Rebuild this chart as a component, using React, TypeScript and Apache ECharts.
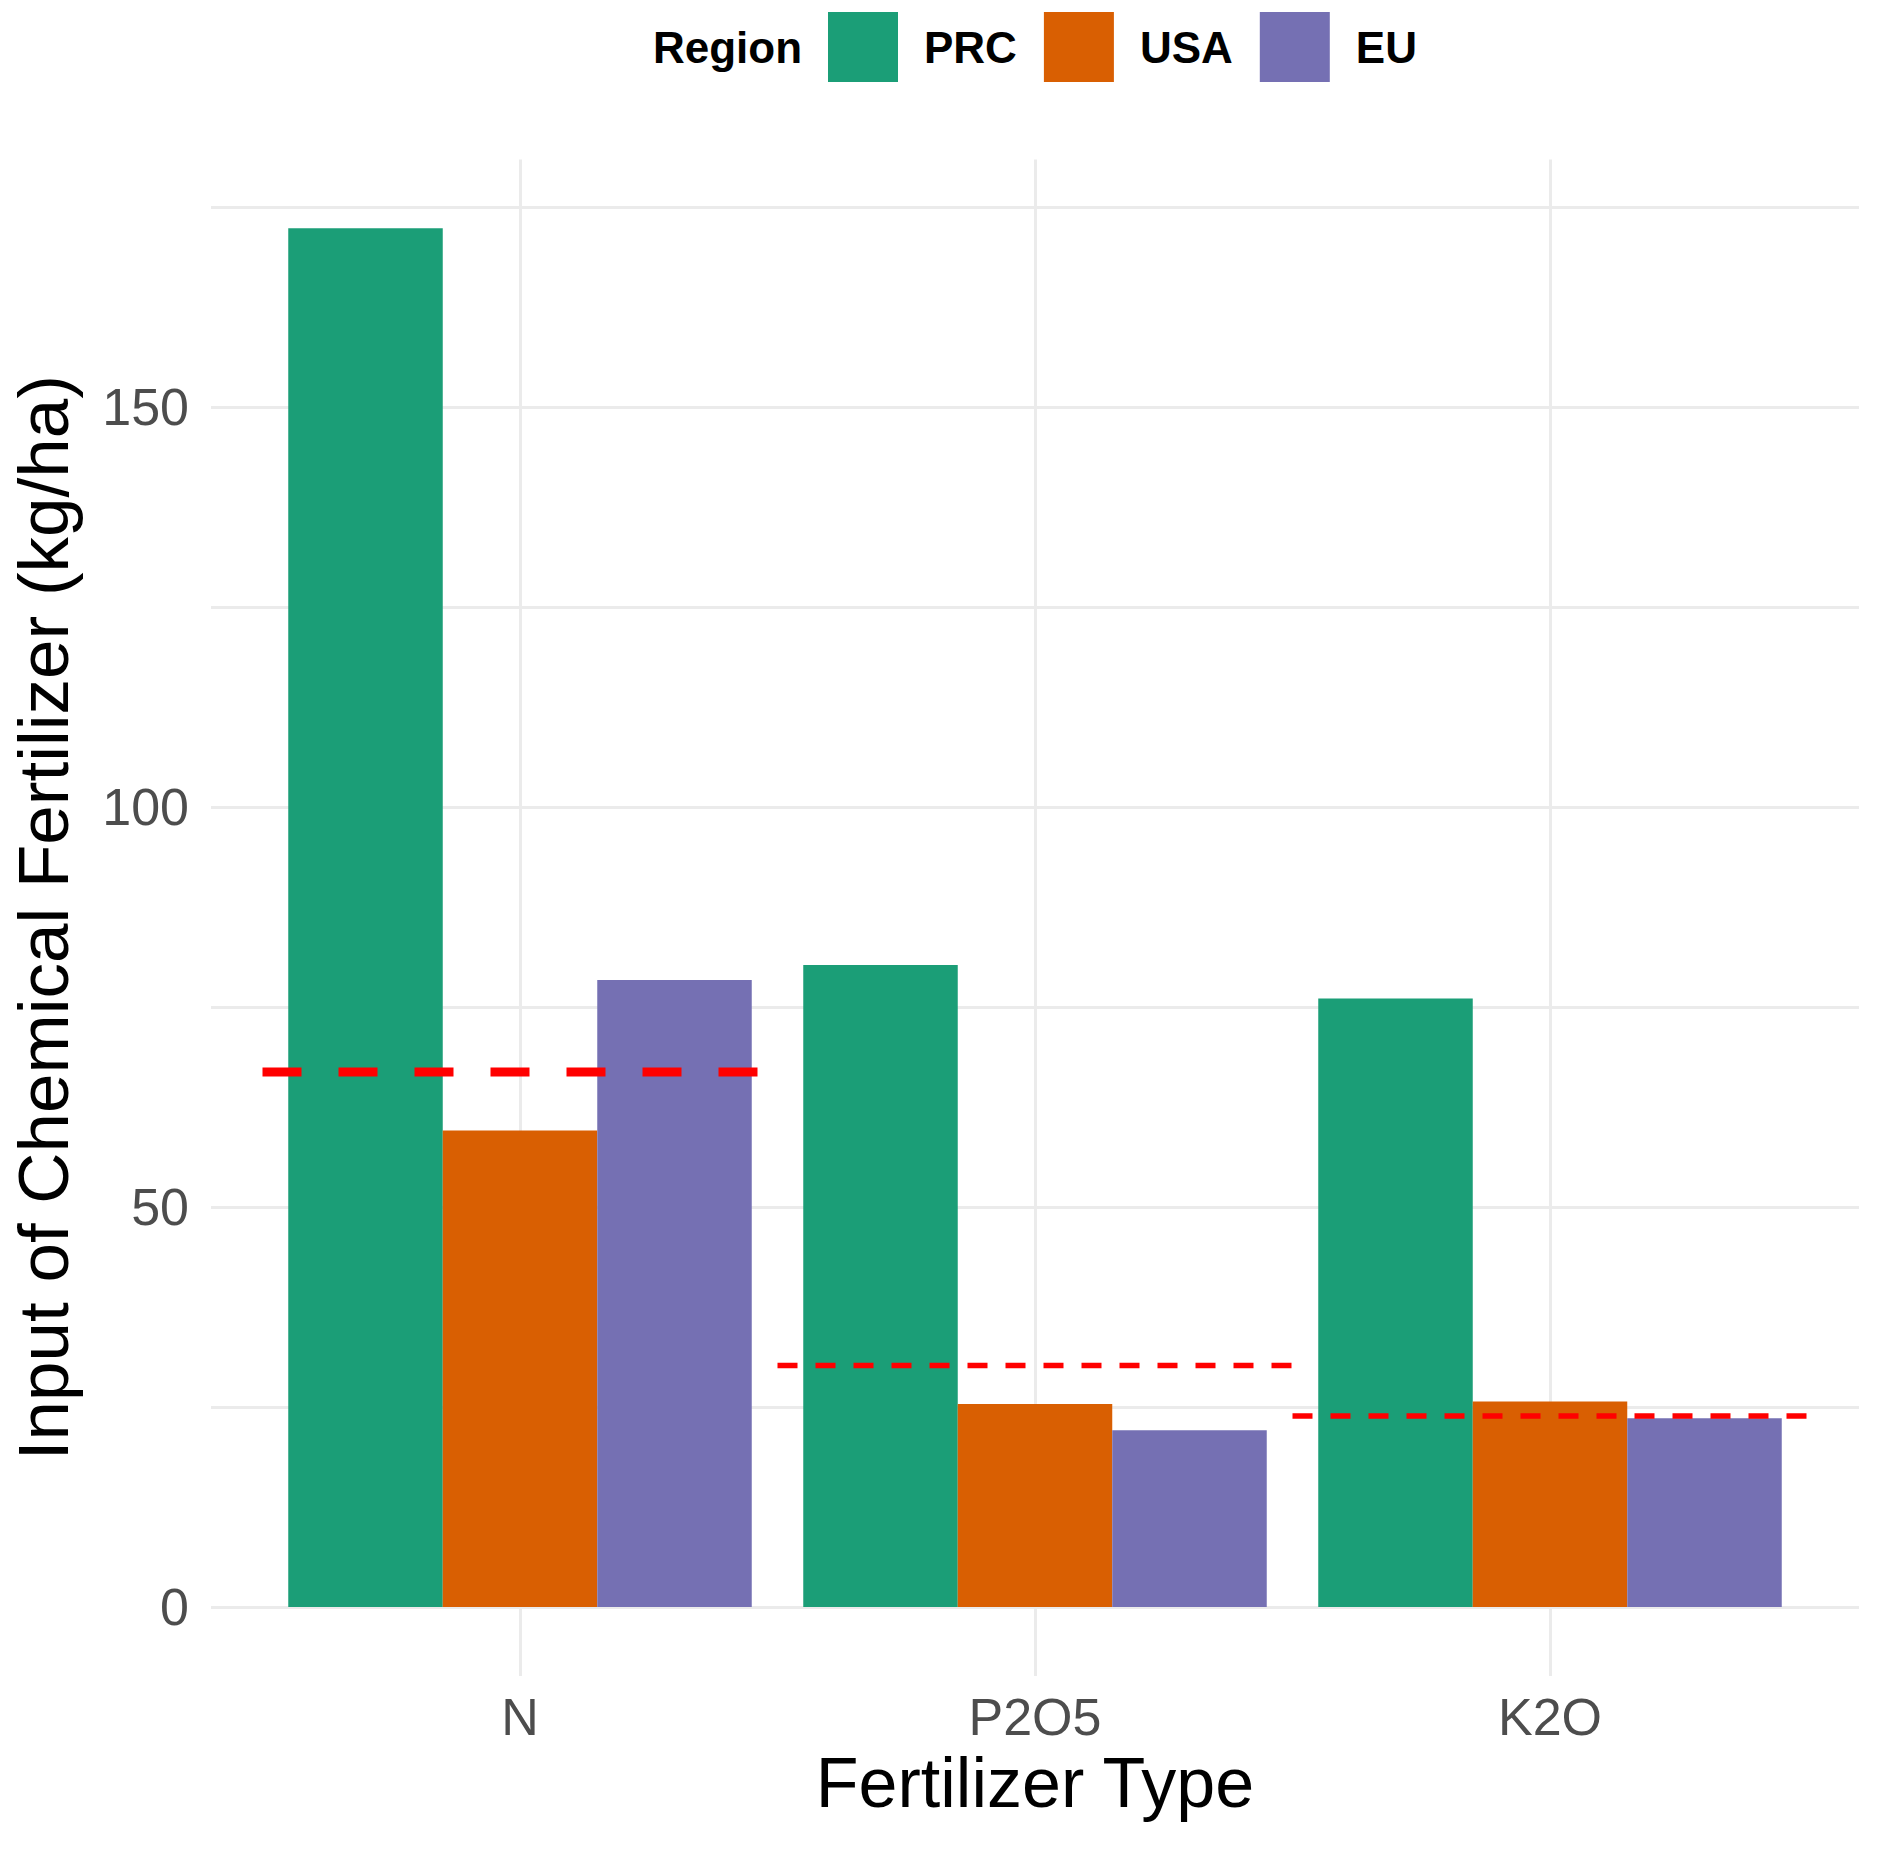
import React, { useEffect, useRef } from "react";
import * as echarts from "echarts";

const categories = ["N", "P2O5", "K2O"];
const regions = ["PRC", "USA", "EU"];
const prcValues = [172.4, 80.3, 76.1];
const usaValues = [59.6, 25.4, 25.7];
const euValues = [78.4, 22.1, 23.6];
const referenceValues = [66.9, 30.2, 23.9];
const yLabelValues = [0, 50, 100, 150];
const yGridValues = [0, 25, 50, 75, 100, 125, 150, 175];
const legendTitle = "Region";

const regionColors = ["#1B9E77", "#D95F02", "#7570B3"];
const refLineStyles = [
  { width: 9, dash: [39, 37] },
  { width: 5.5, dash: [20, 18] },
  { width: 5.5, dash: [20, 18] },
];
const FONT = "Liberation Sans, Arial, Helvetica, sans-serif";

export default function App() {
  const ref = useRef<HTMLDivElement>(null);

  useEffect(() => {
    document.body.style.margin = "0";
    if (!ref.current) return;
    const chart = echarts.init(ref.current, null, { renderer: "svg" });

    const catPos = categories.map((_, i) => i + 1);
    const valueSets = [prcValues, usaValues, euValues];
    const maxVal = Math.max(...valueSets.flat(), ...referenceValues);
    const pad = maxVal * 0.05;

    const barSeries = regions.map((name, ri) => ({
      type: "bar",
      name,
      data: catPos.map((x, ci) => [x, valueSets[ri][ci]]),
      itemStyle: { color: regionColors[ri] },
      barGap: "0%",
      barCategoryGap: "10%",
      z: 2,
    }));

    const lineSeries = categories.map((c, ci) => ({
      type: "line",
      name: "ref-" + c,
      data: [
        [catPos[ci] - 0.5, referenceValues[ci]],
        [catPos[ci] + 0.5, referenceValues[ci]],
      ],
      symbol: "none",
      silent: true,
      z: 5,
      lineStyle: {
        color: "#FF0000",
        width: refLineStyles[ci].width,
        type: refLineStyles[ci].dash,
        cap: "butt",
      },
    }));

    chart.setOption({
      animation: false,
      backgroundColor: "#FFFFFF",
      textStyle: { fontFamily: FONT },
      legend: {
        data: regions,
        left: 823,
        top: 7,
        itemWidth: 70,
        itemHeight: 70,
        itemGap: 27,
        icon: "rect",
        textStyle: {
          fontFamily: FONT,
          fontSize: 44,
          fontWeight: "bold",
          color: "#000000",
          padding: [0, 0, 0, 21],
        },
        selectedMode: false,
      },
      graphic: [
        {
          type: "text",
          left: 653,
          top: 25,
          style: {
            text: legendTitle,
            fontFamily: FONT,
            fontSize: 44,
            fontWeight: "bold",
            fill: "#000000",
          },
        },
      ],
      grid: { left: 207.4, right: 31, top: 159.4, bottom: 174, containLabel: false },
      xAxis: {
        type: "value",
        min: 0.4,
        max: 3.6,
        name: "Fertilizer Type",
        nameLocation: "middle",
        nameGap: 72,
        nameTextStyle: { fontFamily: FONT, fontSize: 70, color: "#000000" },
        axisLine: { show: false },
        axisTick: { show: false, customValues: catPos },
        axisLabel: {
          customValues: catPos,
          formatter: (v: number) => categories[Math.round(v) - 1] ?? "",
          fontFamily: FONT,
          fontSize: 52,
          color: "#4D4D4D",
          margin: 15,
        },
        splitLine: { show: true, lineStyle: { color: "#EBEBEB", width: 3 } },
      },
      yAxis: {
        type: "value",
        min: -pad,
        max: maxVal + pad,
        name: "Input of Chemical Fertilizer (kg/ha)",
        nameLocation: "middle",
        nameRotate: 90,
        nameGap: 132,
        nameTextStyle: { fontFamily: FONT, fontSize: 71, color: "#000000" },
        axisLine: { show: false },
        axisTick: { show: false, customValues: yGridValues },
        axisLabel: {
          customValues: yLabelValues,
          fontFamily: FONT,
          fontSize: 52,
          color: "#4D4D4D",
          margin: 22,
        },
        splitLine: { show: true, lineStyle: { color: "#EBEBEB", width: 3 } },
      },
      series: [...barSeries, ...lineSeries],
    });

    return () => chart.dispose();
  }, []);

  return <div ref={ref} style={{ width: 1890, height: 1850 }} />;
}
